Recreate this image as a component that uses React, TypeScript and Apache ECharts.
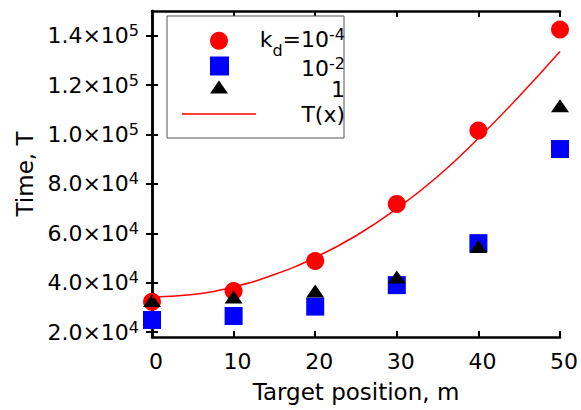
import React, { useEffect, useRef } from 'react';
import * as echarts from 'echarts';

// ---- data ----
const positions = [0, 10, 20, 30, 40, 50];
const kdSmall = [32300, 36600, 48800, 71900, 101600, 142500]; // k_d = 1e-4
const kdMid = [24900, 26500, 30300, 39000, 56000, 94100]; // k_d = 1e-2
const kdOne = [32800, 34200, 36600, 42300, 54600, 111600]; // k_d = 1
const fitX = [0, 5, 10, 15, 20, 25, 30, 35, 40, 45, 50];
const fitT = [34200, 35200, 38300, 43300, 50200, 59000, 70000, 83000, 98500, 115500, 133600];
const xTicks = [0, 10, 20, 30, 40, 50];
const yTicks = [20000, 40000, 60000, 80000, 100000, 120000, 140000];
const yMantissa = ['2.0', '4.0', '6.0', '8.0', '1.0', '1.2', '1.4'];
const yExponent = ['4', '4', '4', '4', '5', '5', '5'];

const FONT = 'DejaVu Sans';

export default function App() {
  const ref = useRef<HTMLDivElement>(null);
  useEffect(() => {
    if (!ref.current) return;
    const chart = echarts.init(ref.current, undefined, { renderer: 'svg' });
    const axisLine = { show: true, lineStyle: { color: '#000', width: 2.5 } };
    const tick = { inside: true, length: 6, lineStyle: { color: '#000', width: 2 } };
    const yLabelFmt = (v: number) => {
      const i = yTicks.indexOf(v);
      if (i < 0) return '';
      return `{m|${yMantissa[i]}×10}{s|${yExponent[i]}}`;
    };
    const option: any = {
      animation: false,
      backgroundColor: '#fff',
      grid: { left: 152, right: 20, top: 11, bottom: 73, containLabel: false },
      xAxis: [
        {
          type: 'value', min: 0, max: 50, interval: 10, position: 'bottom',
          axisLine, axisTick: { ...tick }, splitLine: { show: false },
          axisLabel: {
            fontFamily: FONT, fontSize: 22, color: '#000', margin: 13,
            padding: [0, 0, 0, 8],
            formatter: (v: number) => (xTicks.includes(v) ? String(v) : ''),
          },
          name: 'Target position, m', nameLocation: 'middle', nameGap: 43,
          nameTextStyle: { fontFamily: FONT, fontSize: 23, color: '#000' },
        },
        {
          type: 'value', min: 0, max: 50, interval: 10, position: 'top',
          axisLine, axisTick: { ...tick }, splitLine: { show: false },
          axisLabel: { show: false },
        },
      ],
      yAxis: [
        {
          type: 'value', min: 18000, max: 150000, position: 'left',
          axisLine, splitLine: { show: false },
          axisTick: { ...tick, customValues: yTicks },
          axisLabel: {
            customValues: yTicks, margin: 13, color: '#000',
            formatter: yLabelFmt,
            rich: {
              m: { fontFamily: FONT, fontSize: 22, lineHeight: 26, color: '#000' },
              s: { fontFamily: FONT, fontSize: 16, lineHeight: 16, verticalAlign: 'top', color: '#000' },
            },
          },
          name: 'Time, T', nameLocation: 'middle', nameGap: 116,
          nameTextStyle: { fontFamily: FONT, fontSize: 23, color: '#000' },
        },
        {
          type: 'value', min: 18000, max: 150000, position: 'right',
          axisLine, splitLine: { show: false },
          axisTick: { ...tick, customValues: yTicks },
          axisLabel: { show: false },
        },
      ],
      series: [
        {
          type: 'scatter', symbol: 'circle', symbolSize: 18, clip: false,
          itemStyle: { color: '#ff0000', opacity: 1 },
          emphasis: { disabled: true },
          data: positions.map((x, i) => [x, kdSmall[i]]),
        },
        {
          type: 'scatter', symbol: 'rect', symbolSize: 18, clip: false,
          itemStyle: { color: '#0000ff', opacity: 1 },
          emphasis: { disabled: true },
          data: positions.map((x, i) => [x, kdMid[i]]),
        },
        {
          type: 'scatter', symbol: 'triangle', symbolSize: [18, 13], clip: false,
          itemStyle: { color: '#000', opacity: 1 },
          emphasis: { disabled: true },
          data: positions.map((x, i) => [x, kdOne[i]]),
        },
        {
          type: 'line', smooth: true, symbol: 'none', clip: false,
          lineStyle: { color: '#ff0000', width: 1.5 },
          emphasis: { disabled: true },
          data: fitX.map((x, i) => [x, fitT[i]]),
        },
      ],
      graphic: [
        {
          type: 'rect', shape: { x: 167, y: 16, width: 177, height: 122 },
          style: { fill: '#fff', stroke: '#555', lineWidth: 1 }, z: 10,
        },
        { type: 'circle', shape: { cx: 219, cy: 40.7, r: 9 }, style: { fill: '#ff0000' }, z: 11 },
        { type: 'rect', shape: { x: 210, y: 56.5, width: 19, height: 19 }, style: { fill: '#0000ff' }, z: 11 },
        {
          type: 'polygon', shape: { points: [[219, 80.5], [228, 93.5], [210, 93.5]] },
          style: { fill: '#000' }, z: 11,
        },
        {
          type: 'line', shape: { x1: 182, y1: 114, x2: 256, y2: 114 },
          style: { stroke: '#ff0000', lineWidth: 1.5 }, z: 11,
        },
        ...[
          { t: '{m|k}{sub|d}{m|=10}{sup|-4}', y: 39 },
          { t: '{m|10}{sup|-2}', y: 68 },
          { t: '{m|1}', y: 89.5 },
          { t: '{m|T(x)}', y: 114 },
        ].map((o) => ({
          type: 'text', x: 345, y: o.y, z: 11,
          style: {
            text: o.t, align: 'right', verticalAlign: 'middle', fill: '#000',
            fontFamily: FONT, fontSize: 22,
            rich: {
              m: { fontFamily: FONT, fontSize: 22, lineHeight: 26, fill: '#000' },
              sup: { fontFamily: FONT, fontSize: 16, lineHeight: 16, verticalAlign: 'top', fill: '#000' },
              sub: { fontFamily: FONT, fontSize: 16, lineHeight: 1, verticalAlign: 'top', padding: [16, 0, 0, 0], fill: '#000' },
            },
          },
        })),
      ],
    };
    chart.setOption(option);
    return () => chart.dispose();
  }, []);
  return (
    <div
      ref={ref}
      style={{ position: 'fixed', left: 0, top: 0, width: 581, height: 410, background: '#fff' }}
    />
  );
}
